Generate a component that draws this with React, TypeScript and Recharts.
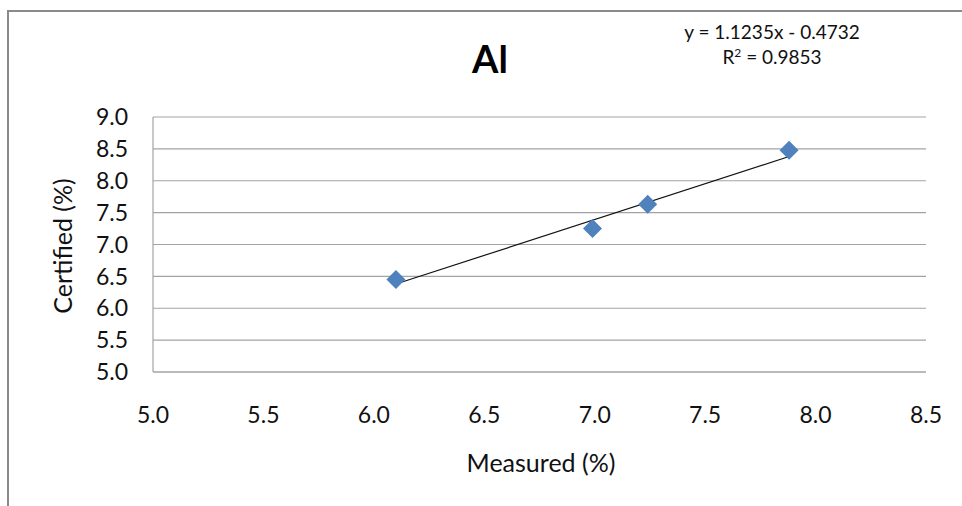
import { ScatterChart, Scatter, XAxis, YAxis, CartesianGrid, Label } from 'recharts'

const measured = [6.1, 6.99, 7.24, 7.88]
const certified = [6.45, 7.25, 7.63, 8.48]
const xTicks = [5.0, 5.5, 6.0, 6.5, 7.0, 7.5, 8.0, 8.5]
const yTicks = [5.0, 5.5, 6.0, 6.5, 7.0, 7.5, 8.0, 8.5, 9.0]
const slope = 1.1235
const intercept = -0.4732
const rSquared = 0.9853

const points = measured.map((x, i) => ({ x, y: certified[i] }))
// linear trendline between the outer points, from the equation shown
const trend = [Math.min(...measured), Math.max(...measured)].map((x) => ({ x, y: slope * x + intercept }))

const font = 'Lato, "Noto Sans", sans-serif'
const grid = '#a3a3a3'

const Diamond = (props: any) => {
  const { cx, cy } = props
  const r = 9.5
  return (
    <path
      d={`M${cx},${cy - r} L${cx + r},${cy} L${cx},${cy + r} L${cx - r},${cy} Z`}
      fill="#4f81bd"
    />
  )
}

export default function App() {
  return (
    <div style={{ position: 'fixed', left: 0, top: 0, width: 962, height: 506, background: '#fff', overflow: 'hidden' }}>
      {/* chart frame, right and bottom edges fall outside the picture */}
      <div style={{ position: 'absolute', left: 7, top: 10, width: 1000, height: 600, border: '2px solid #8a8a8a' }} />

      <div style={{ position: 'absolute', left: 0, top: 0 }}>
        <ScatterChart width={962} height={506} margin={{ top: 117, right: 36, left: 0, bottom: 0 }}>
          <CartesianGrid horizontal vertical={false} stroke={grid} strokeWidth={1.2} />
          <XAxis
            type="number"
            dataKey="x"
            domain={[5, 8.5]}
            ticks={xTicks}
            tickFormatter={(v: number) => v.toFixed(1)}
            height={134}
            axisLine={{ stroke: grid, strokeWidth: 1.2 }}
            tickLine={false}
            tickSize={0}
            tickMargin={35}
            tick={{ fontSize: 23, fill: '#111', fontFamily: font }}
            allowDataOverflow
          >
            <Label
              content={() => (
                <text x={541} y={472} textAnchor="middle" fontSize={25} fill="#111" fontFamily={font}>
                  Measured (%)
                </text>
              )}
            />
          </XAxis>
          <YAxis
            type="number"
            dataKey="y"
            domain={[5, 9]}
            ticks={yTicks}
            tickFormatter={(v: number) => v.toFixed(1)}
            width={153}
            axisLine={{ stroke: grid, strokeWidth: 1.2 }}
            tickLine={false}
            tickSize={0}
            tickMargin={25}
            tick={{ fontSize: 23, fill: '#111', fontFamily: font }}
            allowDataOverflow
          >
            <Label
              content={() => (
                <text
                  x={62}
                  y={246}
                  textAnchor="middle"
                  dominantBaseline="central"
                  transform="rotate(-90, 62, 246)"
                  fontSize={25}
                  fill="#111"
                  fontFamily={font}
                >
                  Certified (%)
                </text>
              )}
            />
          </YAxis>
          <Scatter data={trend} line={{ stroke: '#111', strokeWidth: 1.2 }} shape={() => <g />} isAnimationActive={false} />
          <Scatter data={points} shape={Diamond} isAnimationActive={false} />
        </ScatterChart>
      </div>

      <svg width={962} height={506} style={{ position: 'absolute', left: 0, top: 0, pointerEvents: 'none' }}>
        <text x={490} y={73} textAnchor="middle" fontSize={38} fontWeight="bold" fill="#000" fontFamily={font}>
          Al
        </text>
        <text x={772} y={39} textAnchor="middle" fontSize={19} fill="#111" fontFamily={font}>
          {`y = ${slope}x - ${Math.abs(intercept)}`}
        </text>
        <text x={772} y={64} textAnchor="middle" fontSize={19} fill="#111" fontFamily={font}>
          R<tspan dy={-7} fontSize={12}>2</tspan>
          <tspan dy={7}>{` = ${rSquared}`}</tspan>
        </text>
      </svg>
    </div>
  )
}
